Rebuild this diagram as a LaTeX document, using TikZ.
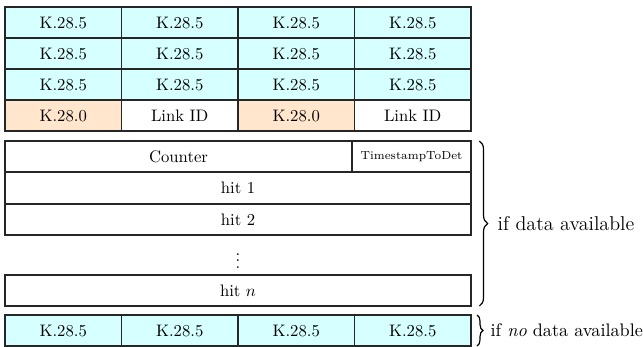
\documentclass[tikz,border=0pt]{standalone}
\usetikzlibrary{decorations.pathreplacing}
\definecolor{kfill}{RGB}{214,255,255}
\definecolor{cfill}{RGB}{255,230,204}
\begin{document}
\begin{tikzpicture}[x=0.6pt,y=-0.6pt,
  cell/.style={draw=black!85,line width=0.7pt,rectangle,inner sep=0pt,outer sep=0pt,
    minimum height=18.6pt},
  kcell/.style={cell,fill=kfill,minimum width=69.9pt},
  ccell/.style={cell,fill=cfill,minimum width=69.9pt},
  lcell/.style={cell,fill=white,minimum width=69.9pt},
  wide/.style={cell,fill=white,minimum width=279.6pt},
  bracedeco/.style={decorate,decoration={brace,amplitude=#1},line width=0.7pt},
  bracelabel/.style={anchor=west,inner sep=0pt}]
\useasboundingbox (0,0) rectangle (643,346);

% idle comma words and header
\foreach \r/\y in {1/22.5,2/53.5,3/84.5}{
  \foreach \c/\x in {1/63.25,2/179.75,3/296.25,4/412.75}{
    \node[kcell] (k\r\c) at (\x,\y) {K.28.5};
  }
}
\node[ccell] (h1) at (63.25,115.5) {K.28.0};
\node[lcell] (h2) at (179.75,115.5) {Link ID};
\node[ccell] (h3) at (296.25,115.5) {K.28.0};
\node[lcell] (h4) at (412.75,115.5) {Link ID};

% data block
\node[cell,fill=white,minimum width=208.2pt] (cnt) at (178.5,156.5) {Counter};
\node[cell,fill=white,minimum width=71.4pt,font=\scriptsize] (ts) at (411.5,156.5) {TimestampToDet};
\node[wide] (hit1) at (238,188) {hit 1};
\node[wide] (hit2) at (238,219.5) {hit 2};
\node (dots) at (238,256) {$\vdots$};
\node[wide] (hitn) at (238,290.5) {hit $n$};

% idle words when empty
\foreach \c/\x in {1/63.25,2/179.75,3/296.25,4/412.75}{
  \node[kcell] (e\c) at (\x,330.5) {K.28.5};
}

% braces
\draw[bracedeco=5pt] ([xshift=5pt]ts.north east) -- coordinate[xshift=10.8pt] (b1) ([xshift=5pt]hitn.south east);
\node[bracelabel,font=\large] (l1) at (b1) {if data available};
\draw[bracedeco=3.6pt] ([xshift=3.6pt]e4.north east) -- coordinate[xshift=8pt] (b2) ([xshift=3.6pt]e4.south east);
\node[bracelabel,font=\fontsize{10.9}{13}\selectfont] (l2) at (b2) {if \emph{no} data available};
\end{tikzpicture}
\end{document}
